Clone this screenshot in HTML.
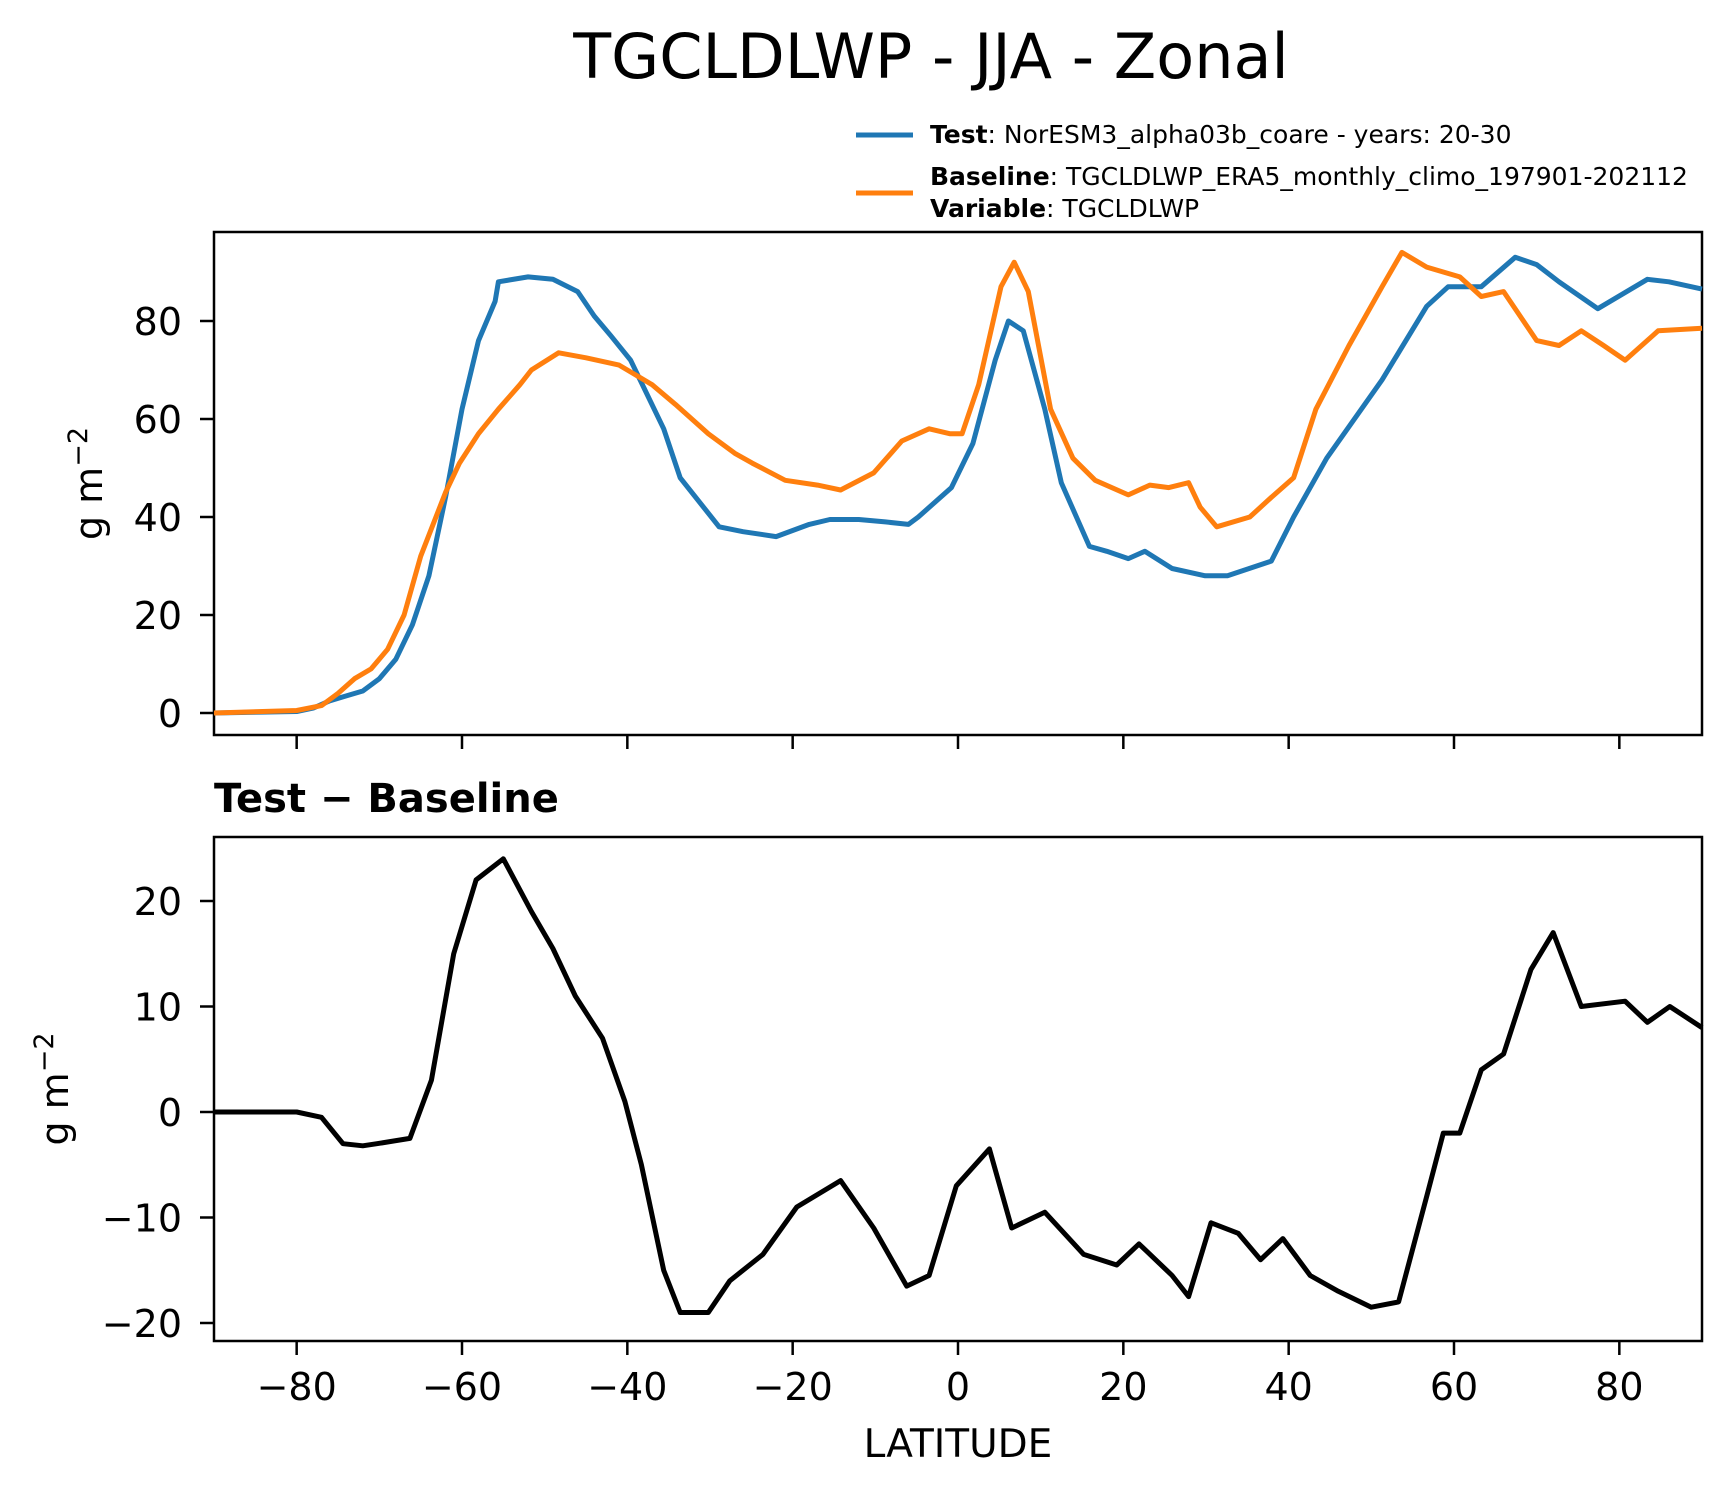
<!DOCTYPE html>
<html><head><meta charset="utf-8"><style>
body{margin:0;background:#fff}
svg{display:block;font-family:"DejaVu Sans","Liberation Sans",sans-serif}
</style></head><body>
<svg id="c" width="1731" height="1496" viewBox="0 0 1731 1496" xmlns="http://www.w3.org/2000/svg">
<text x="931" y="78" font-size="62" text-anchor="middle">TGCLDLWP - JJA - Zonal</text>
<g>
<line x1="856" y1="135" x2="913" y2="135" stroke="#1f77b4" stroke-width="5"/>
<text x="930" y="143" font-size="25"><tspan font-weight="bold">Test</tspan>: NorESM3_alpha03b_coare - years: 20-30</text>
<line x1="856" y1="193" x2="913" y2="193" stroke="#ff7f0e" stroke-width="5"/>
<text x="930" y="185" font-size="25"><tspan font-weight="bold">Baseline</tspan>: TGCLDLWP_ERA5_monthly_climo_197901-202112</text>
<text x="930" y="217" font-size="25"><tspan font-weight="bold">Variable</tspan>: TGCLDLWP</text>
</g>
<text x="214" y="812" font-size="40" font-weight="bold">Test − Baseline</text>
<text x="958" y="1457" font-size="39" text-anchor="middle">LATITUDE</text>
<g id="top"></g><g id="bot"></g>
</svg>
<script>
const latT=[-90,-80,-78,-76,-74,-72,-70,-68,-66,-64,-62,-60,-58,-56,-55.6,-52,-49,-46,-44,-42,-39.6,-35.6,-33.6,-28.9,-26,-22,-18,-15.5,-12,-8.8,-6,-4.8,-0.8,1.8,4.5,6.1,7.9,10.5,12.5,15.9,18,20.6,22.6,25.9,29.9,32.6,37.9,40.6,44.6,51.3,56.7,59.3,63.3,67.4,70,72.7,77.4,83.4,86,90];
const testVals=[0,0.3,1,2.5,3.5,4.5,7,11,18,28,44,62,76,84,88,89,88.5,86,81,77,72,58,48,38,37,36,38.5,39.5,39.5,39,38.5,40,46,55,72,80,78,62,47,34,33,31.5,33,29.5,28,28,31,40,52,68,83,87,87,93,91.5,88,82.5,88.5,88,86.5];
const latB=[-90,-80,-77,-75,-73,-71,-69,-67,-65,-62,-60.3,-58,-55.6,-53,-51.6,-48.3,-45,-41,-37,-34.2,-30.2,-27,-24.9,-20.9,-17,-14.2,-10.2,-6.8,-3.5,-1,0.5,2.5,5.2,6.8,8.5,11.2,13.9,16.6,20.6,23.2,25.5,27.9,29.3,31.3,35.3,37.9,40.6,43.3,47.3,51.3,53.7,56.7,60.7,63.3,66,70,72.7,75.4,78.1,80.7,84.7,90];
const baseVals=[0,0.5,1.5,4,7,9,13,20,32,45,51,57,62,67,70,73.5,72.5,71,67,63,57,53,51,47.5,46.5,45.5,49,55.5,58,57,57,67,87,92,86,62,52,47.5,44.5,46.5,46,47,42,38,40,44,48,62,75,87,94,91,89,85,86,76,75,78,75,72,78,78.5];
const latD=[-90,-80,-77,-74.4,-72,-70.3,-66.3,-63.7,-61,-58.3,-55,-51.6,-49,-46.3,-43,-40.3,-38.3,-35.6,-33.6,-30.2,-27.6,-23.6,-19.5,-14.2,-10.2,-6.2,-3.5,-0.2,3.8,6.5,10.5,15.2,19.2,21.9,25.9,27.9,30.6,33.9,36.6,39.3,42.6,46,50,53.3,56.7,58.7,60.7,63.3,66,69.3,72,75.4,80.7,83.4,86.1,90];
const diffVals=[0,0,-0.5,-3,-3.2,-3,-2.5,3,15,22,24,19,15.5,11,7,1,-5,-15,-19,-19,-16,-13.5,-9,-6.5,-11,-16.5,-15.5,-7,-3.5,-11,-9.5,-13.5,-14.5,-12.5,-15.5,-17.5,-10.5,-11.5,-14,-12,-15.5,-17,-18.5,-18,-8,-2,-2,4,5.5,13.5,17,10,10.5,8.5,10,8];
const xTicks=[-80,-60,-40,-20,0,20,40,60,80];
const yTicksTop=[0,20,40,60,80];
const yTicksBot=[-20,-10,0,10,20];
const NS="http://www.w3.org/2000/svg";
const L=214,R=1702;
const X=v=>L+(v+90)/180*(R-L);
function mk(p,tag,attrs){const e=document.createElementNS(NS,tag);for(const k in attrs)e.setAttribute(k,attrs[k]);p.appendChild(e);return e;}
function panel(g,top,bot,Y,yt,labels,name,ylx){
  const f=mk(g,'rect',{x:L,y:top,width:R-L,height:bot-top,fill:'none',stroke:'#000','stroke-width':2.5});
  
  
  xTicks.forEach(t=>{const l=mk(g,'line',{x1:X(t),x2:X(t),y1:bot,y2:bot+14,stroke:'#000','stroke-width':2.5});
    
    
    if(labels){const tx=mk(g,'text',{x:X(t),y:bot+59,'font-size':38,'text-anchor':'middle'});tx.textContent=(t<0?'−':'')+Math.abs(t);
      
      }
  });
  yt.forEach(t=>{const l=mk(g,'line',{x1:L-14,x2:L,y1:Y(t),y2:Y(t),stroke:'#000','stroke-width':2.5});
    
    
    const tx=mk(g,'text',{x:182,y:Y(t)+14,'font-size':38,'text-anchor':'end'});tx.textContent=(t<0?'−':'')+Math.abs(t);
    
    
  });
  const cy=(top+bot)/2;
  const yl=mk(g,'text',{x:0,y:0,'font-size':38,'text-anchor':'middle',transform:`translate(${ylx},${cy}) rotate(-90)`});
  yl.innerHTML='g m<tspan dy="-15" font-size="27">−2</tspan>';
  
  
}
function line(g,lat,vals,Y,color,name){
  const d=lat.map((a,i)=>(i?'L':'M')+X(a).toFixed(1)+','+Y(vals[i]).toFixed(1)).join('');
  const p=mk(g,'path',{d,fill:'none',stroke:color,'stroke-width':5,'stroke-linejoin':'round'});
  
  
}
const gt=document.getElementById('top'),gb=document.getElementById('bot');
const YT=v=>713-v*4.9;
const YB=v=>1112-v*10.55;
panel(gt,232,735,YT,yTicksTop,false,'top',102);
line(gt,latT,testVals,YT,'#1f77b4','test-line');
line(gt,latB,baseVals,YT,'#ff7f0e','baseline-line');
panel(gb,837,1341,YB,yTicksBot,true,'bottom',68);
line(gb,latD,diffVals,YB,'#000','difference-line');
</script>
</body></html>
